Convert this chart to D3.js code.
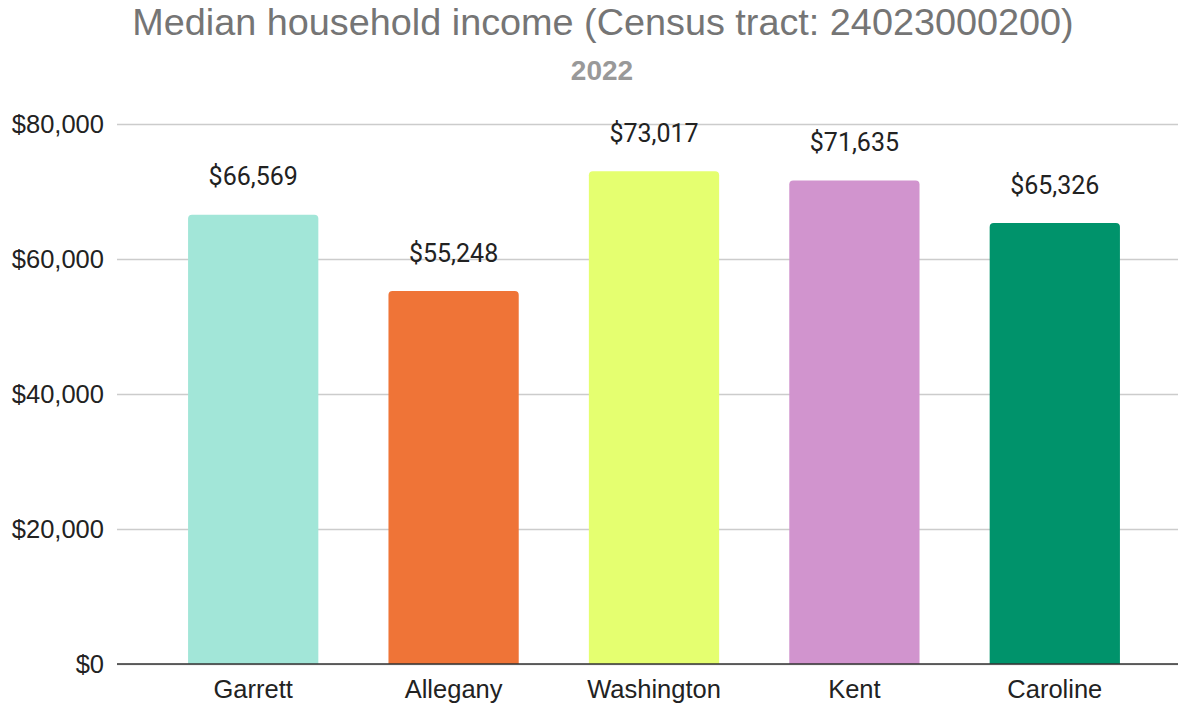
<!DOCTYPE html>
<html>
<head>
<meta charset="utf-8">
<script src="https://cdn.jsdelivr.net/npm/d3@7"></script>
<style>
  body { margin: 0; background: #fff; }
  svg { display: block; }
</style>
</head>
<body>
<div id="chart"></div>
<script>
// Chart data
const counties = ["Garrett", "Allegany", "Washington", "Kent", "Caroline"];
const incomes = [66569, 55248, 73017, 71635, 65326];
const barColors = ["#a2e6d8", "#ef7437", "#e5ff70", "#d194ce", "#00936b"];
const yTicks = [0, 20000, 40000, 60000, 80000];
const titleText = "Median household income (Census tract: 24023000200)";
const subtitleText = "2022";

const width = 1178, height = 704;
const margin = { top: 124, right: 0, bottom: 40, left: 117 };

const svg = d3.select("#chart")
    .append("svg")
    .attr("width", width)
    .attr("height", height);

// Scales
const x = d3.scaleBand()
    .domain(counties)
    .range([153, 1155])
    .paddingInner(0.35)
    .paddingOuter(0.175);

const y = d3.scaleLinear()
    .domain([0, 80000])
    .range([height - margin.bottom, margin.top]);

const money = d3.format("$,");

// Title + subtitle
svg.append("text")
    .attr("x", 603)
    .attr("y", 35)
    .attr("text-anchor", "middle")
    .attr("font-family", "Liberation Sans, Arial, sans-serif")
    .attr("font-size", 37.8)
    .attr("fill", "#757575")
    .text(titleText);

svg.append("text")
    .attr("x", 602)
    .attr("y", 80)
    .attr("text-anchor", "middle")
    .attr("font-family", "Liberation Sans, Arial, sans-serif")
    .attr("font-weight", "bold")
    .attr("font-size", 28)
    .attr("fill", "#999999")
    .text(subtitleText);

// Y axis with gridlines
const yAxis = d3.axisLeft(y)
    .tickValues(yTicks)
    .tickFormat(money)
    .tickSize(-(width - margin.left))
    .tickPadding(13);

const yG = svg.append("g")
    .attr("class", "y-axis")
    .attr("transform", `translate(${margin.left},0)`)
    .call(yAxis);

yG.select(".domain").remove();
yG.selectAll(".tick line")
    .attr("stroke", "#cccccc")
    .attr("stroke-width", 1.5);
yG.selectAll(".tick text")
    .attr("font-family", "Liberation Sans, Arial, sans-serif")
    .attr("font-size", 25.5)
    .attr("fill", "#222");

// Bars with rounded top corners
const r = 4;
function barPath(d, i) {
    const x0 = x(counties[i]), x1 = x0 + x.bandwidth();
    const yt = y(d), yb = y(0);
    return `M${x0},${yb} L${x0},${yt + r} Q${x0},${yt} ${x0 + r},${yt}` +
           ` L${x1 - r},${yt} Q${x1},${yt} ${x1},${yt + r} L${x1},${yb} Z`;
}

svg.selectAll(".bar")
    .data(incomes)
    .enter().append("path")
    .attr("class", "bar")
    .attr("d", barPath)
    .attr("fill", (d, i) => barColors[i]);

// Value labels
svg.selectAll(".val")
    .data(incomes)
    .enter().append("text")
    .attr("class", "val")
    .attr("x", (d, i) => x(counties[i]) + x.bandwidth() / 2)
    .attr("y", d => y(d) - 29.5)
    .attr("text-anchor", "middle")
    .attr("font-family", "Roboto, sans-serif")
    .attr("font-size", 25)
    .attr("fill", "#222")
    .text(d => money(d));

// Baseline + category axis
const xAxis = d3.axisBottom(x).tickSize(0).tickPadding(16);
const xG = svg.append("g")
    .attr("class", "x-axis")
    .attr("transform", `translate(0,${y(0)})`)
    .call(xAxis);
xG.select(".domain").remove();
xG.selectAll(".tick text")
    .attr("font-family", "Liberation Sans, Arial, sans-serif")
    .attr("font-size", 25.5)
    .attr("fill", "#222");

svg.append("line")
    .attr("x1", margin.left)
    .attr("x2", width)
    .attr("y1", y(0))
    .attr("y2", y(0))
    .attr("stroke", "#333")
    .attr("stroke-width", 1.5);
</script>
</body>
</html>
